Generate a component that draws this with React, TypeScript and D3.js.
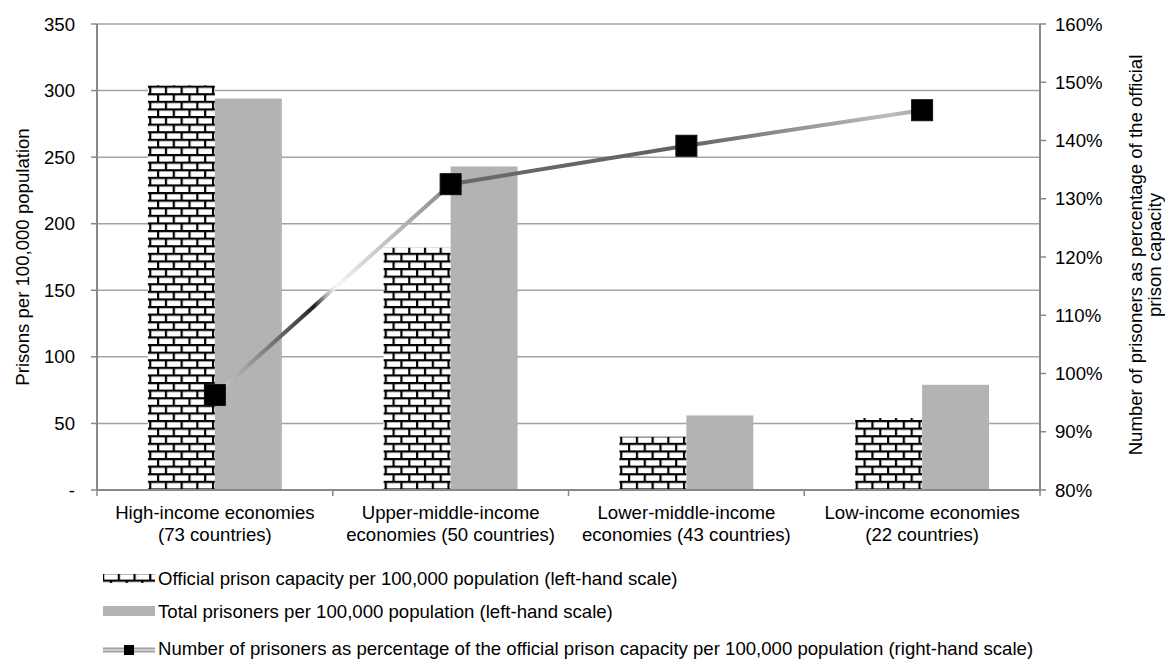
import React from 'react';
import * as d3 from 'd3';

const categories = [
  ['High-income economies', '(73 countries)'],
  ['Upper-middle-income', 'economies (50 countries)'],
  ['Lower-middle-income', 'economies (43 countries)'],
  ['Low-income economies', '(22 countries)'],
];
const capacity = [304, 182, 40, 54];
const prisoners = [294, 243, 56, 79];
const occupancy = [0.963, 1.325, 1.391, 1.452];
const leftTicks = [0, 50, 100, 150, 200, 250, 300, 350];
const rightTicks = [0.8, 0.9, 1.0, 1.1, 1.2, 1.3, 1.4, 1.5, 1.6];
const legendLabels = [
  'Official prison capacity per 100,000 population (left-hand scale)',
  'Total prisoners per 100,000 population (left-hand scale)',
  'Number of prisoners as percentage of the official prison capacity per 100,000 population (right-hand scale)',
];

const W = 1165, H = 659;
const left = 97, right = 1040, top = 24, bottom = 490;
const font = '"Liberation Sans", Arial, sans-serif';
const fs = 18.6;

const App: React.FC = () => {
  const keys = categories.map((_, i) => String(i));
  const x = d3.scaleBand<string>().domain(keys).range([left, right]);
  const yL = d3.scaleLinear().domain([0, 350]).range([bottom, top]);
  const yR = d3.scaleLinear().domain([0.8, 1.6]).range([bottom, top]);
  const bw = x.bandwidth() * 0.284;
  const cx = (i: number) => (x(keys[i]) ?? 0) + x.bandwidth() / 2;

  const line = d3.line<number>().x((_, i) => cx(i)).y(d => yR(d));
  const x0 = cx(0), x3 = cx(3), span = x3 - x0;
  const stop = (px: number) => `${((px - x0) / span) * 100}%`;
  const gradStops: [number, string][] = [
    [215, '#d0d0d0'], [260, '#8a8a8a'], [300, '#444'], [314, '#1e1e1e'],
    [326, '#b0b0b0'], [336, '#fafafa'], [362, '#d8d8d8'], [446, '#8c8c8c'],
    [454, '#6a6a6a'], [685, '#626262'], [890, '#bdbdbd'], [920, '#a8a8a8'],
  ];

  const boundaries = [...keys.map(k => x(k) ?? 0), right];

  return (
    <svg width={W} height={H} style={{ position: 'absolute', left: 0, top: 0, background: '#fff' }}
      fontFamily={font} fontSize={fs}>
      <defs>
        <pattern id="brick" patternUnits="userSpaceOnUse" width={15.7} height={15.2} x={0} y={2}>
          <rect width={15.7} height={15.2} fill="#fff" />
          <rect y={0} width={15.7} height={2.2} fill="#000" />
          <rect y={7.6} width={15.7} height={2.2} fill="#000" />
          <rect x={0} y={0} width={2.2} height={7.6} fill="#000" />
          <rect x={7.85} y={7.6} width={2.2} height={7.6} fill="#000" />
        </pattern>
        <linearGradient id="lineGrad" gradientUnits="userSpaceOnUse" x1={x0} y1={0} x2={x3} y2={0}>
          {gradStops.map(([px, c], i) => <stop key={i} offset={stop(px)} stopColor={c} />)}
        </linearGradient>
      </defs>

      {/* gridlines */}
      {leftTicks.filter(t => t > 0).map(t => (
        <line key={t} x1={left} x2={right} y1={yL(t)} y2={yL(t)} stroke="#a3a3a3" strokeWidth={1.5} />
      ))}

      {/* bars */}
      {capacity.map((v, i) => (
        <rect key={'c' + i} x={cx(i) - bw} y={yL(v)} width={bw} height={yL(0) - yL(v)} fill="url(#brick)" />
      ))}
      {prisoners.map((v, i) => (
        <rect key={'p' + i} x={cx(i)} y={yL(v)} width={bw} height={yL(0) - yL(v)} fill="#b3b3b3" />
      ))}

      {/* axes */}
      <line x1={left} x2={left} y1={top} y2={bottom} stroke="#888" strokeWidth={2} />
      <line x1={right} x2={right} y1={top} y2={bottom} stroke="#888" strokeWidth={2} />
      <line x1={left} x2={right} y1={bottom} y2={bottom} stroke="#888" strokeWidth={2} />
      {leftTicks.map(t => (
        <g key={t}>
          <line x1={left - 6} x2={left} y1={yL(t)} y2={yL(t)} stroke="#888" strokeWidth={1.5} />
          <text x={75} y={yL(t)} dy="0.35em" textAnchor="end">{t === 0 ? '-' : t}</text>
        </g>
      ))}
      {rightTicks.map(t => (
        <g key={t}>
          <line x1={right} x2={right + 6} y1={yR(t)} y2={yR(t)} stroke="#888" strokeWidth={1.5} />
          <text x={1055} y={yR(t)} dy="0.35em">{d3.format('.0%')(t)}</text>
        </g>
      ))}
      {boundaries.map((b, i) => (
        <line key={i} x1={b} x2={b} y1={bottom} y2={bottom + 6} stroke="#888" strokeWidth={1.5} />
      ))}
      {categories.map((c, i) => (
        <text key={i} x={cx(i)} y={519} textAnchor="middle">
          <tspan x={cx(i)}>{c[0]}</tspan>
          <tspan x={cx(i)} dy={22}>{c[1]}</tspan>
        </text>
      ))}

      {/* axis titles */}
      <text transform="translate(22,257) rotate(-90)" dy="0.35em" textAnchor="middle">Prisons per 100,000 population</text>
      <text transform="translate(1135,255) rotate(-90)" dy="0.35em" textAnchor="middle">
        Number of prisoners as percentage of the official
      </text>
      <text transform="translate(1154,255) rotate(-90)" dy="0.35em" textAnchor="middle">prison capacity</text>

      {/* line series */}
      <path d={line(occupancy) ?? ''} fill="none" stroke="url(#lineGrad)" strokeWidth={4} />
      {occupancy.map((v, i) => (
        <rect key={i} x={cx(i) - 10.5} y={yR(v) - 10.5} width={21} height={21} fill="#000" stroke="#111" />
      ))}

      {/* legend */}
      <rect x={103} y={574} width={52} height={9} fill="url(#brick)" />
      <text x={158} y={578} dy="0.35em">{legendLabels[0]}</text>
      <rect x={103} y={606} width={52} height={10} fill="#b3b3b3" />
      <text x={158} y={611} dy="0.35em">{legendLabels[1]}</text>
      <line x1={103} x2={155} y1={650} y2={650} stroke="#a0a0a0" strokeWidth={5} />
      <line x1={103} x2={155} y1={650} y2={650} stroke="#dcdcdc" strokeWidth={1.5} />
      <rect x={124} y={645} width={10} height={10} fill="#000" />
      <text x={158} y={648} dy="0.35em">{legendLabels[2]}</text>
    </svg>
  );
};

export default App;
